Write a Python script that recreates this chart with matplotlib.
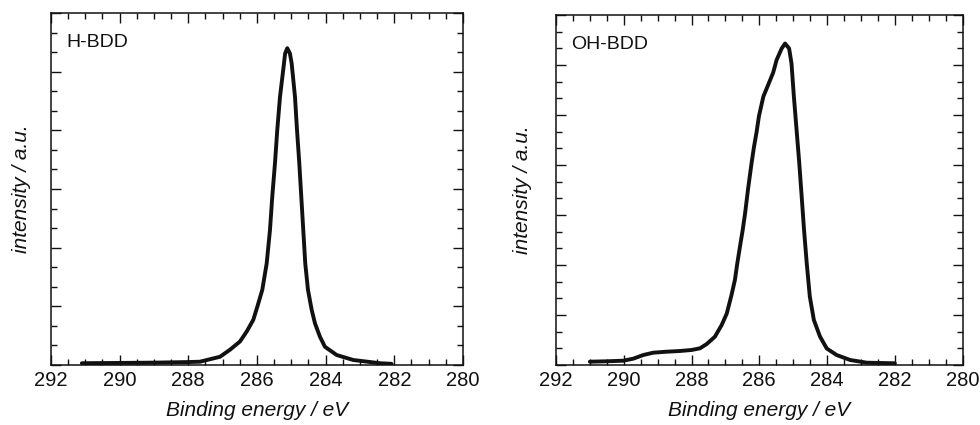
import numpy as np
import matplotlib.pyplot as plt
from matplotlib.ticker import MultipleLocator

plt.rcParams['font.family'] = ['Liberation Sans', 'DejaVu Sans']

# ---- H-BDD spectrum ----
E_h = [291.10, 290.0, 289.0, 288.0, 287.66, 287.077, 286.786, 286.495, 286.299,
       286.107, 285.991, 285.845, 285.717, 285.621, 285.554, 285.475, 285.408,
       285.329, 285.213, 285.18, 285.117, 285.04, 284.989, 284.892, 284.834,
       284.767, 284.709, 284.651, 284.593, 284.514, 284.406, 284.31, 284.164,
       284.019, 283.678, 283.194, 282.417, 282.08]
I_h = [0.03, 0.035, 0.04, 0.05, 0.056, 0.14, 0.26, 0.40, 0.57,
       0.77, 0.99, 1.28, 1.73, 2.30, 2.87, 3.44, 4.01,
       4.57, 5.14, 5.31, 5.40, 5.31, 5.14, 4.57, 4.01,
       3.44, 2.87, 2.30, 1.73, 1.28, 0.94, 0.71, 0.48,
       0.31, 0.17, 0.085, 0.03, 0.02]

# ---- OH-BDD spectrum ----
E_oh = [291.00, 290.50, 290.01, 289.72, 289.42, 289.13, 288.73, 288.34, 288.00,
        287.75, 287.55, 287.31, 287.11, 286.96, 286.82, 286.72, 286.65, 286.57,
        286.49, 286.42, 286.33, 286.23, 286.16, 286.08, 286.01, 285.88, 285.74,
        285.59, 285.49, 285.34, 285.24, 285.12, 285.05, 284.98, 284.90, 284.82,
        284.75, 284.68, 284.60, 284.51, 284.39, 284.21, 284.01, 283.72, 283.32,
        282.83, 282.00]
I_oh = [0.066, 0.074, 0.086, 0.126, 0.20, 0.246, 0.266, 0.28, 0.30,
        0.334, 0.42, 0.566, 0.80, 1.03, 1.40, 1.70, 2.03, 2.37,
        2.70, 3.03, 3.53, 4.03, 4.35, 4.66, 4.98, 5.37, 5.60,
        5.85, 6.10, 6.33, 6.43, 6.33, 6.03, 5.37, 4.70, 4.03,
        3.37, 2.70, 2.03, 1.37, 0.90, 0.57, 0.33, 0.20, 0.10,
        0.046, 0.034]

panels = [(E_h, I_h, 'H-BDD', 6), (E_oh, I_oh, 'OH-BDD', 7)]
rects = [[0.052, 0.1412, 0.4204, 0.8282], [0.5673, 0.1412, 0.415, 0.8235]]
ylab_x = [-0.0485, -0.059]

fig = plt.figure(figsize=(9.8, 4.25), dpi=100)

for k, (E, I, name, ytop) in enumerate(panels):
    ax = fig.add_axes(rects[k])
    ax.plot(E, I, color='#111111', linewidth=2.8,
            solid_joinstyle='round', solid_capstyle='round')
    ax.set_xlim(292, 280)
    ax.set_ylim(0, ytop)
    ax.xaxis.set_major_locator(MultipleLocator(2))
    ax.xaxis.set_minor_locator(MultipleLocator(0.5))
    ax.yaxis.set_major_locator(MultipleLocator(1))
    ax.yaxis.set_minor_locator(MultipleLocator(1 / 3))
    ax.tick_params(which='both', direction='in', top=True, right=True,
                   width=1.0, colors='#111111')
    ax.tick_params(which='major', length=7, labelsize=14.5, pad=4.5)
    ax.tick_params(which='minor', length=4.3)
    ax.set_yticklabels([])
    for s in ax.spines.values():
        s.set_linewidth(1.1)
        s.set_color('#111111')
    ax.text(0.037, 0.915, name, transform=ax.transAxes, fontsize=14,
            ha='left', va='center', color='#111111')
    ax.set_xlabel('Binding energy / eV', fontsize=15, style='italic', color='#111111')
    ax.set_ylabel('intensity / a.u.', fontsize=15, style='italic', color='#111111')
    ax.xaxis.set_label_coords(0.5, -0.102)
    ax.yaxis.set_label_coords(ylab_x[k], 0.5)

fig.savefig('out.png', dpi=100)
